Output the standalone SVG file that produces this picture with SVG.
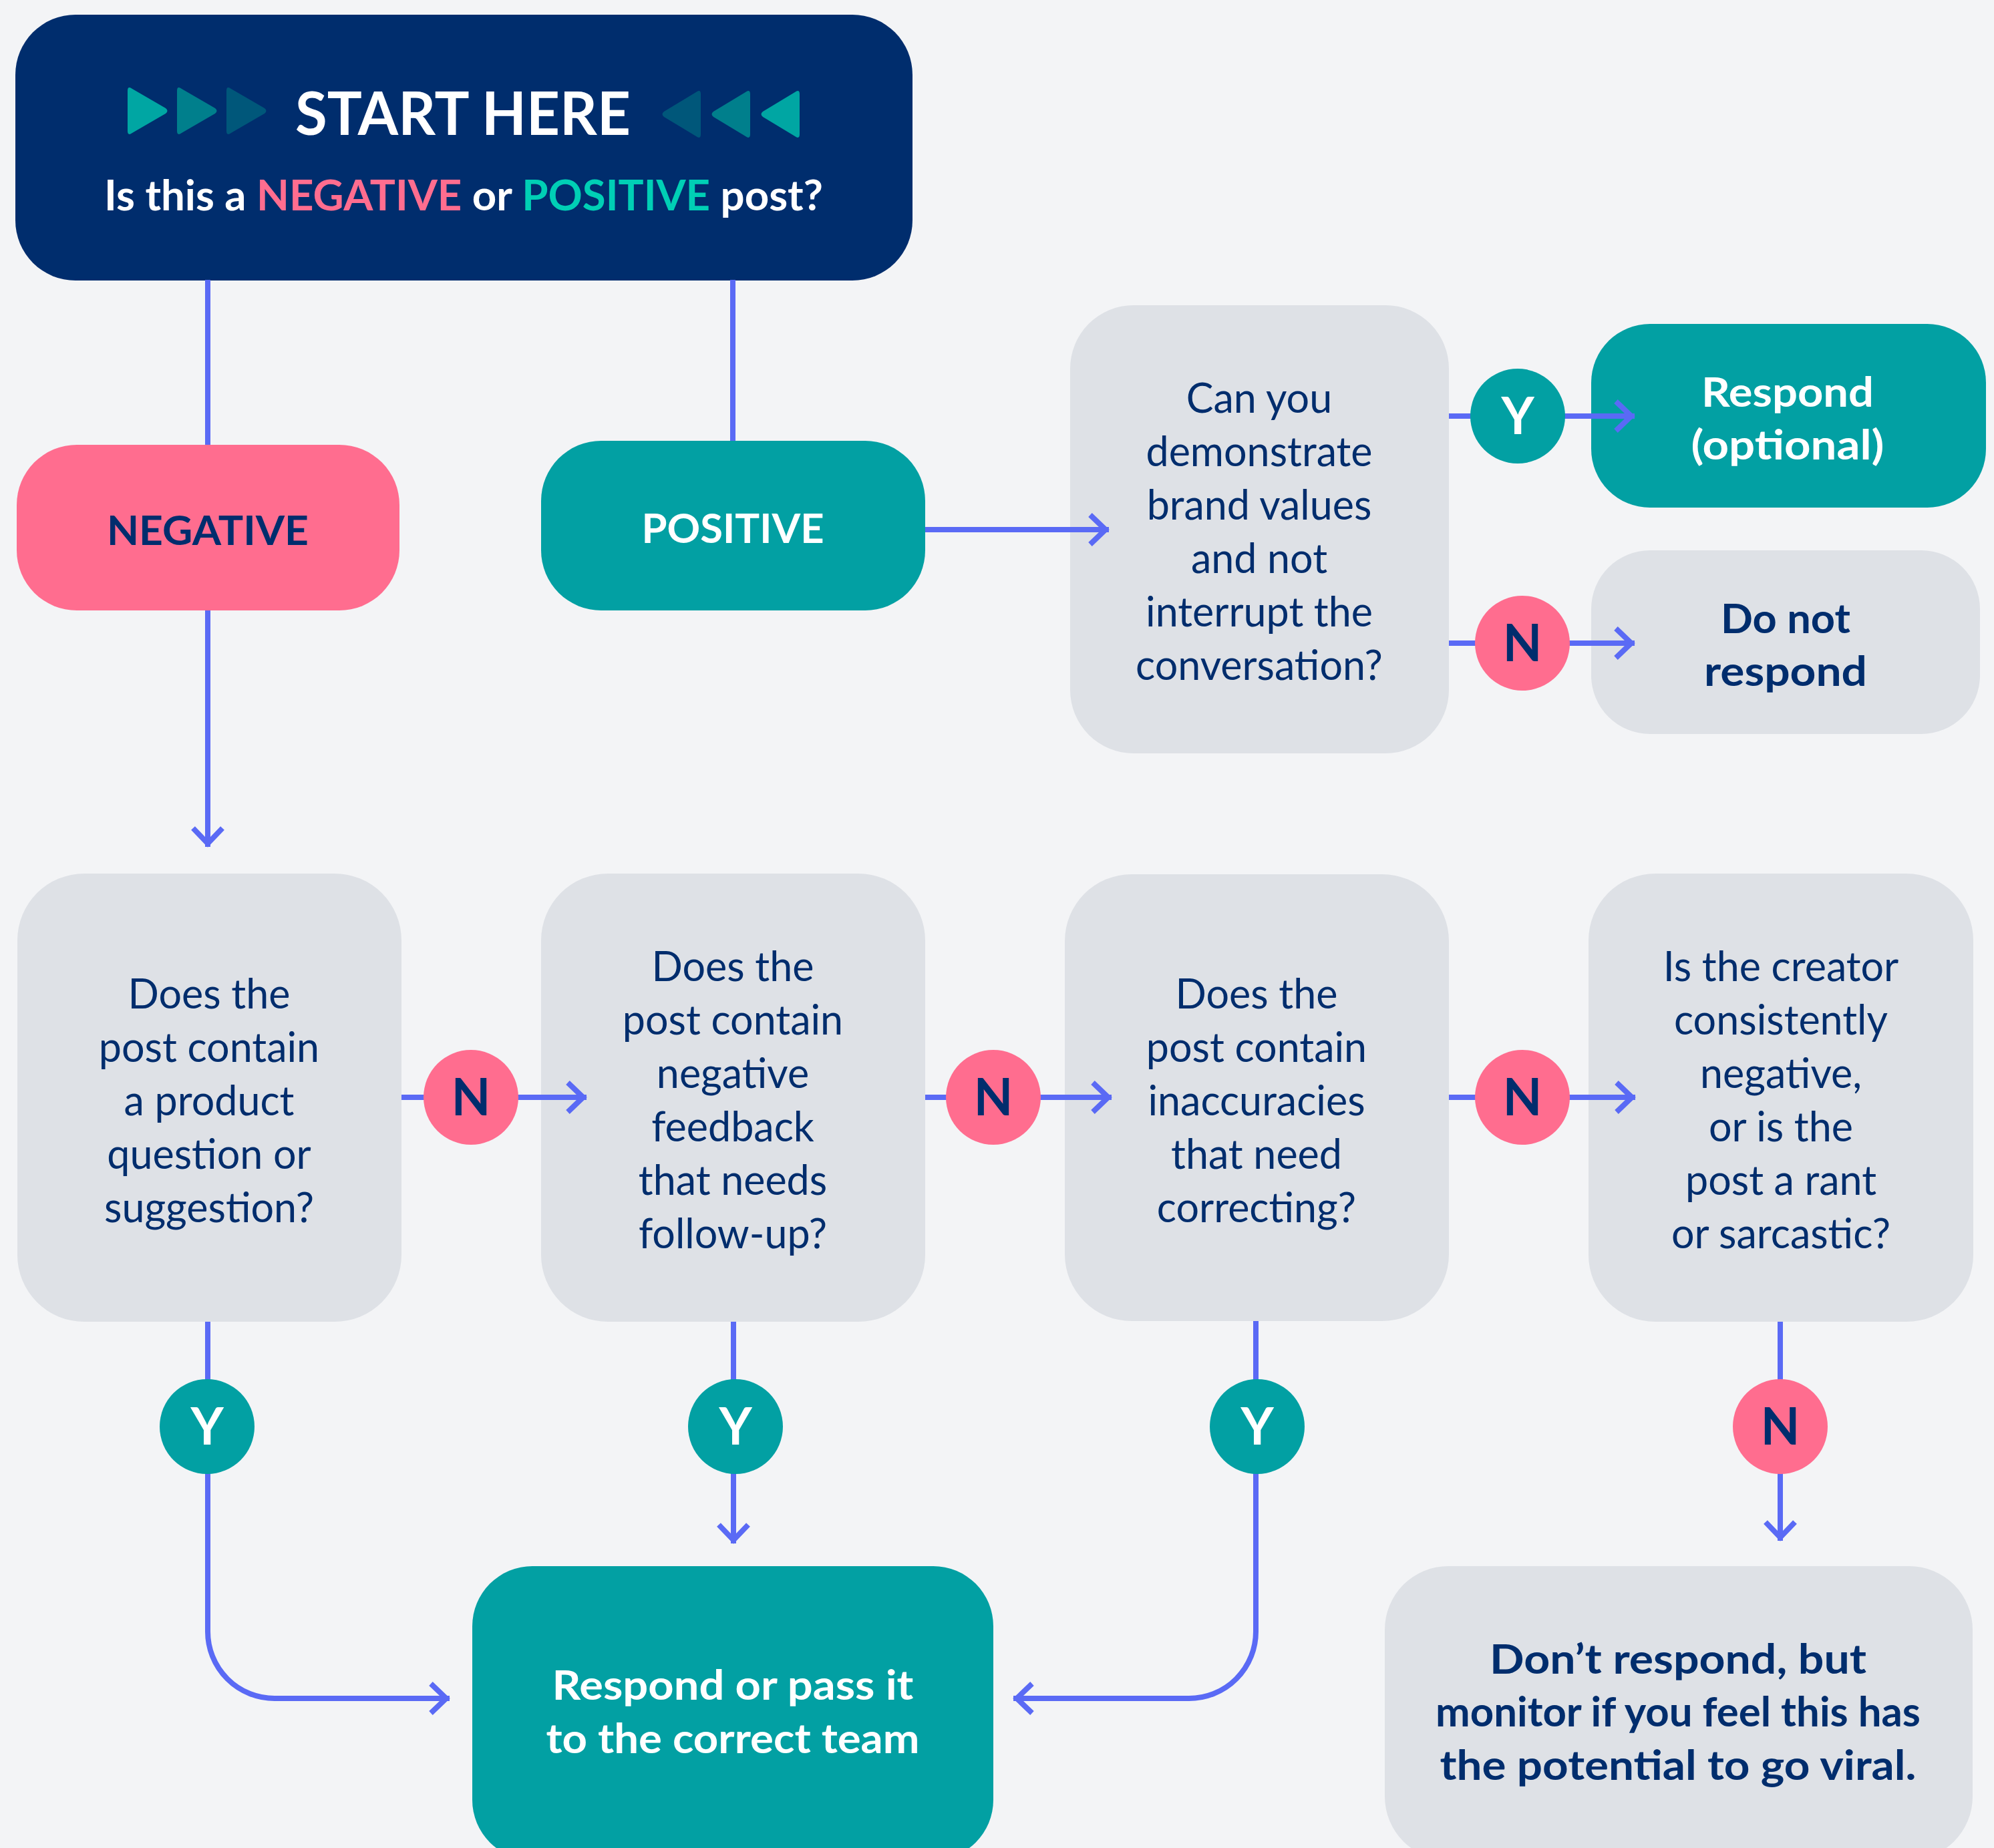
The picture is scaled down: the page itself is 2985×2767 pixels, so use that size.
<svg xmlns="http://www.w3.org/2000/svg" width="2985" height="2767" viewBox="0 0 2985 2767">
<defs>
<style>
.bg{fill:#f3f4f6}
.gray{fill:#dee1e6}
.teal{fill:#02a0a3}
.pink{fill:#ff6d8f}
.navy{fill:#002d6d}
.q{font-family:Lato,"Noto Sans",sans-serif;font-size:61px;fill:#002d6d;text-anchor:middle}
.bw{font-family:Lato,"Noto Sans",sans-serif;font-weight:700;font-size:61px;fill:#ffffff;text-anchor:middle}
.bn{font-family:Lato,"Noto Sans",sans-serif;font-weight:700;font-size:61px;fill:#002d6d;text-anchor:middle}
.lbl{font-family:Lato,"Noto Sans",sans-serif;font-weight:700;font-size:76px;text-anchor:middle}
.conn{fill:none;stroke:#5a6af5;stroke-width:8}
</style>
<marker id="arr" markerUnits="userSpaceOnUse" markerWidth="60" markerHeight="60" viewBox="-40 -30 60 60" refX="0" refY="0" orient="auto" overflow="visible">
<path d="M-28,-22 L-5,0 L-28,22" fill="none" stroke="#5a6af5" stroke-width="8" stroke-linejoin="miter"/>
</marker>
</defs>
<rect class="bg" x="0" y="0" width="2985" height="2767"/>

<g id="start">
<rect x="23" y="22" width="1343" height="398" rx="90" ry="90" class="navy"/>
<path d="M191,136 Q191,128 198,133 L248,162 Q253,166 248,170 L198,199 Q191,204 191,196 Z" fill="#00a6a3"/>
<path d="M265,136 Q265,128 272,133 L322,162 Q327,166 322,170 L272,199 Q265,204 265,196 Z" fill="#007f8c"/>
<path d="M339,136 Q339,128 346,133 L396,162 Q401,166 396,170 L346,199 Q339,204 339,196 Z" fill="#00577a"/>
<path d="M1049,141 Q1049,133 1042,138 L994,167 Q989,171 994,175 L1042,204 Q1049,209 1049,201 Z" fill="#00577a"/>
<path d="M1123,141 Q1123,133 1116,138 L1068,167 Q1063,171 1068,175 L1116,204 Q1123,209 1123,201 Z" fill="#007f8c"/>
<path d="M1197,141 Q1197,133 1190,138 L1142,167 Q1137,171 1142,175 L1190,204 Q1197,209 1197,201 Z" fill="#00a6a3"/>
<text x="693" y="202" class="bw" style="font-size:90px" textLength="502" lengthAdjust="spacingAndGlyphs">START HERE</text>
<text x="694" y="315" class="bw" style="font-size:63px" textLength="1076" lengthAdjust="spacingAndGlyphs">Is this a <tspan fill="#ff6d8f">NEGATIVE</tspan> or <tspan fill="#00cfb5">POSITIVE</tspan> post?</text>
</g>

<g id="negative">
<rect x="25" y="666" width="573" height="248" rx="90" ry="90" class="pink"/>
<text x="311" y="816" class="bn" textLength="302" lengthAdjust="spacingAndGlyphs">NEGATIVE</text>
</g>

<g id="positive">
<rect x="810" y="660" width="575" height="254" rx="90" ry="90" class="teal"/>
<text x="1097" y="813" class="bw" textLength="273" lengthAdjust="spacingAndGlyphs">POSITIVE</text>
</g>

<g id="brand-values">
<rect x="1602" y="457" width="567" height="671" rx="95" ry="95" class="gray"/>
<text class="q" x="1885" y="618">Can you</text>
<text class="q" x="1885" y="698">demonstrate</text>
<text class="q" x="1885" y="778">brand values</text>
<text class="q" x="1885" y="858">and not</text>
<text class="q" x="1885" y="938">interrupt the</text>
<text class="q" x="1885" y="1018">conversation?</text>
</g>

<g id="respond-optional">
<rect x="2382" y="485" width="591" height="275" rx="88" ry="88" class="teal"/>
<text class="bw" x="2676" y="609" textLength="258" lengthAdjust="spacingAndGlyphs">Respond</text>
<text class="bw" x="2676" y="688" textLength="289" lengthAdjust="spacingAndGlyphs">(optional)</text>
</g>

<g id="do-not-respond">
<rect x="2382" y="824" width="582" height="275" rx="88" ry="88" class="gray"/>
<text class="bn" x="2673" y="948" textLength="194" lengthAdjust="spacingAndGlyphs">Do not</text>
<text class="bn" x="2673" y="1027" textLength="244" lengthAdjust="spacingAndGlyphs">respond</text>
</g>

<g id="q-product">
<rect x="26" y="1308" width="575" height="671" rx="100" ry="100" class="gray"/>
<text class="q" x="313" y="1510">Does the</text>
<text class="q" x="313" y="1590">post contain</text>
<text class="q" x="313" y="1670">a product</text>
<text class="q" x="313" y="1750">question or</text>
<text class="q" x="313" y="1830">suggestion?</text>
</g>

<g id="q-feedback">
<rect x="810" y="1308" width="575" height="671" rx="100" ry="100" class="gray"/>
<text class="q" x="1097" y="1469">Does the</text>
<text class="q" x="1097" y="1549">post contain</text>
<text class="q" x="1097" y="1629">negative</text>
<text class="q" x="1097" y="1709">feedback</text>
<text class="q" x="1097" y="1789">that needs</text>
<text class="q" x="1097" y="1869">follow-up?</text>
</g>

<g id="q-inaccuracies">
<rect x="1594" y="1309" width="575" height="669" rx="100" ry="100" class="gray"/>
<text class="q" x="1881" y="1510">Does the</text>
<text class="q" x="1881" y="1590">post contain</text>
<text class="q" x="1881" y="1670">inaccuracies</text>
<text class="q" x="1881" y="1750">that need</text>
<text class="q" x="1881" y="1830">correcting?</text>
</g>

<g id="q-creator">
<rect x="2378" y="1308" width="576" height="671" rx="100" ry="100" class="gray"/>
<text class="q" x="2666" y="1469">Is the creator</text>
<text class="q" x="2666" y="1549">consistently</text>
<text class="q" x="2666" y="1629">negative,</text>
<text class="q" x="2666" y="1709">or is the</text>
<text class="q" x="2666" y="1789">post a rant</text>
<text class="q" x="2666" y="1869">or sarcastic?</text>
</g>

<g id="respond-or-pass">
<rect x="707" y="2345" width="780" height="440" rx="90" ry="90" class="teal"/>
<text class="bw" x="1097" y="2545" textLength="541" lengthAdjust="spacingAndGlyphs">Respond or pass it</text>
<text class="bw" x="1097" y="2625" textLength="559" lengthAdjust="spacingAndGlyphs">to the correct team</text>
</g>

<g id="dont-respond">
<rect x="2073" y="2345" width="880" height="440" rx="95" ry="95" class="gray"/>
<text class="bn" x="2512" y="2506" textLength="564" lengthAdjust="spacingAndGlyphs">Don’t respond, but</text>
<text class="bn" x="2512" y="2585" textLength="726" lengthAdjust="spacingAndGlyphs">monitor if you feel this has</text>
<text class="bn" x="2512" y="2665" textLength="713" lengthAdjust="spacingAndGlyphs">the potential to go viral.</text>
</g>

<g id="connectors">
<path class="conn" d="M311,419 V666"/>
<path class="conn" d="M1097,419 V660"/>
<path class="conn" d="M311,914 V1268" marker-end="url(#arr)"/>
<path class="conn" d="M1385,793 H1660" marker-end="url(#arr)"/>
<path class="conn" d="M2169,623 H2447" marker-end="url(#arr)"/>
<path class="conn" d="M2169,963 H2447" marker-end="url(#arr)"/>
<path class="conn" d="M601,1643 H878" marker-end="url(#arr)"/>
<path class="conn" d="M1385,1643 H1664" marker-end="url(#arr)"/>
<path class="conn" d="M2169,1643 H2448" marker-end="url(#arr)"/>
<path class="conn" d="M311,1979 V2443 A100,100 0 0 0 411,2543 H673" marker-end="url(#arr)"/>
<path class="conn" d="M1098,1979 V2311" marker-end="url(#arr)"/>
<path class="conn" d="M1880,1978 V2443 A100,100 0 0 1 1780,2543 H1517" marker-end="url(#arr)"/>
<path class="conn" d="M2665,1979 V2307" marker-end="url(#arr)"/>
</g>

<g id="labels">
<g id="lbl-pos-y"><circle cx="2272" cy="623" r="71" class="teal"/><text class="lbl" x="2272" y="650" fill="#ffffff">Y</text></g>
<g id="lbl-pos-n"><circle cx="2279" cy="963" r="71" class="pink"/><text class="lbl" x="2279" y="990" fill="#002d6d">N</text></g>
<g id="lbl-n1"><circle cx="705" cy="1643" r="71" class="pink"/><text class="lbl" x="705" y="1670" fill="#002d6d">N</text></g>
<g id="lbl-n2"><circle cx="1487" cy="1643" r="71" class="pink"/><text class="lbl" x="1487" y="1670" fill="#002d6d">N</text></g>
<g id="lbl-n3"><circle cx="2279" cy="1643" r="71" class="pink"/><text class="lbl" x="2279" y="1670" fill="#002d6d">N</text></g>
<g id="lbl-y1"><circle cx="310" cy="2136" r="71" class="teal"/><text class="lbl" x="310" y="2163" fill="#ffffff">Y</text></g>
<g id="lbl-y2"><circle cx="1101" cy="2136" r="71" class="teal"/><text class="lbl" x="1101" y="2163" fill="#ffffff">Y</text></g>
<g id="lbl-y3"><circle cx="1882" cy="2136" r="71" class="teal"/><text class="lbl" x="1882" y="2163" fill="#ffffff">Y</text></g>
<g id="lbl-n4"><circle cx="2665" cy="2136" r="71" class="pink"/><text class="lbl" x="2665" y="2163" fill="#002d6d">N</text></g>
</g>
</svg>
